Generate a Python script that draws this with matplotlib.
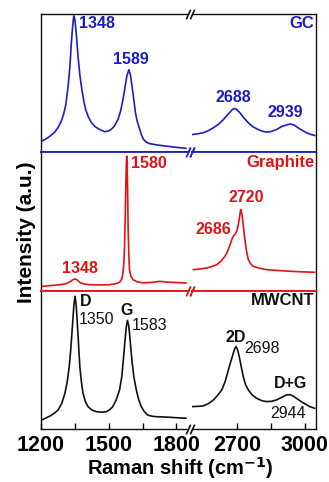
import matplotlib
matplotlib.use("Agg")
from matplotlib import pyplot as plt
import numpy as np

plt.rcParams["font.family"] = ["Liberation Sans", "DejaVu Sans"]

BLUE = "#1c1cc8"
RED = "#e01414"
BLACK = "#111111"

# GC spectrum, intensity in panel units 0-100
gc_x_lo = [1203, 1220, 1240, 1260, 1276, 1290, 1300, 1310, 1320, 1328, 1334, 1340, 1345, 1350,
           1356, 1364, 1372, 1379, 1390, 1398, 1410, 1423, 1440, 1460, 1482, 1500, 1511, 1525,
           1541, 1553, 1563, 1572, 1580, 1589, 1596, 1603, 1610, 1618, 1626, 1633, 1645, 1654,
           1665, 1680, 1720, 1754, 1800, 1842]
gc_y_lo = [8.1, 9.5, 11.7, 14.5, 18.0, 22.5, 27.5, 34.5, 47.7, 62.0, 78.0, 90.9, 98.6, 96.0,
           86.0, 69.3, 56.0, 47.7, 36.5, 30.9, 25.5, 21.6, 18.5, 16.5, 14.9, 15.5, 16.5, 19.0,
           23.7, 30.0, 38.1, 47.0, 55.0, 59.7, 56.0, 48.0, 39.5, 29.0, 22.5, 18.9, 12.5, 9.4,
           7.5, 6.3, 5.2, 4.5, 3.6, 2.9]
gc_x_hi = [2504, 2530, 2551, 2575, 2596, 2620, 2640, 2655, 2669, 2680, 2688, 2697, 2713, 2730,
           2750, 2770, 2794, 2812, 2831, 2850, 2875, 2900, 2926, 2938, 2955, 2970, 2990, 3007,
           3025, 3044]
gc_y_hi = [12.9, 13.5, 14.2, 15.8, 17.8, 20.5, 23.7, 26.5, 29.0, 31.0, 31.7, 31.2, 28.6, 25.0,
           21.4, 18.5, 16.5, 15.3, 14.6, 15.0, 16.5, 18.8, 20.1, 20.5, 19.5, 17.8, 15.8, 14.2,
           13.0, 12.2]

# Graphite spectrum
gr_x_lo = [1203, 1250, 1284, 1310, 1330, 1342, 1350, 1358, 1372, 1390, 1416, 1460, 1504, 1530,
           1548, 1558, 1563, 1567, 1570, 1573, 1576, 1578, 1580, 1582, 1584, 1586, 1589, 1592,
           1598, 1607, 1625, 1651, 1690, 1724, 1760, 1783, 1842]
gr_y_lo = [3.1, 3.8, 4.3, 5.0, 6.5, 8.0, 8.5, 8.0, 6.0, 4.8, 4.3, 4.2, 4.3, 5.0,
           6.0, 8.5, 12.8, 20.0, 32.0, 53.8, 78.0, 92.0, 97.3, 88.0, 68.0, 44.0, 26.0, 15.2,
           10.5, 8.0, 6.5, 5.6, 6.0, 6.7, 6.2, 6.0, 5.6]
gr_x_hi = [2507, 2540, 2567, 2590, 2611, 2630, 2645, 2655, 2667, 2677, 2686, 2691, 2700, 2706,
           2712, 2716, 2720, 2725, 2730, 2735, 2742, 2750, 2760, 2772, 2800, 2831, 2880, 2934,
           2990, 3044]
gr_y_hi = [15.2, 15.8, 16.4, 17.5, 18.8, 21.5, 24.5, 27.3, 32.0, 37.0, 40.0, 40.6, 43.5, 47.8,
           54.0, 58.7, 57.0, 51.4, 44.0, 37.0, 29.0, 22.5, 19.5, 17.6, 16.2, 15.2, 14.6, 14.0,
           13.6, 13.3]

# MWCNT spectrum
mw_x_lo = [1203, 1220, 1240, 1260, 1276, 1292, 1306, 1316, 1325, 1332, 1337, 1342, 1346, 1351,
           1356, 1360, 1366, 1372, 1379, 1386, 1396, 1408, 1425, 1445, 1468, 1489, 1505, 1518,
           1533, 1548, 1558, 1566, 1572, 1578, 1583, 1588, 1592, 1598, 1604, 1612, 1622, 1633,
           1644, 1658, 1673, 1690, 1710, 1740, 1768, 1805, 1842]
mw_y_lo = [6.5, 7.8, 9.4, 11.5, 13.8, 18.5, 25.9, 34.0, 45.1, 58.0, 69.3, 81.0, 90.0, 95.9,
           89.0, 79.0, 62.0, 45.1, 34.0, 25.9, 20.0, 16.2, 13.8, 12.5, 12.2, 12.5, 14.0, 16.2,
           21.0, 28.3, 38.0, 52.4, 64.0, 74.1, 78.5, 75.0, 69.3, 58.0, 47.6, 37.0, 28.3, 21.0,
           16.2, 12.5, 10.1, 9.3, 8.9, 8.7, 8.5, 8.1, 7.8]
mw_x_hi = [2504, 2530, 2551, 2575, 2596, 2615, 2633, 2648, 2662, 2674, 2684, 2690, 2696, 2703,
           2710, 2719, 2728, 2738, 2750, 2768, 2787, 2810, 2831, 2853, 2875, 2897, 2919, 2935,
           2948, 2965, 2985, 3003, 3022, 3044]
mw_y_hi = [16.2, 16.4, 16.7, 18.5, 21.0, 24.5, 28.3, 34.5, 42.8, 49.5, 54.9, 58.0, 59.6, 57.0,
           52.4, 45.0, 37.9, 32.0, 28.3, 24.5, 22.2, 20.5, 19.8, 20.0, 21.0, 22.8, 24.6, 24.8,
           23.9, 22.0, 19.8, 18.0, 16.2, 15.0]

samples = ["GC", "Graphite", "MWCNT"]
colors = [BLUE, RED, BLACK]
spectra = [
    (gc_x_lo, gc_y_lo, gc_x_hi, gc_y_hi),
    (gr_x_lo, gr_y_lo, gr_x_hi, gr_y_hi),
    (mw_x_lo, mw_y_lo, mw_x_hi, mw_y_hi),
]

# peak labels: (text, x, y, weight)
labels = [
    [("1348", 1447, 93, "bold"), ("1589", 1596, 67, "bold"),
     ("2688", 2685, 40, "bold"), ("2939", 2916, 29, "bold")],
    [("1348", 1372, 16, "bold"), ("1580", 1680, 92, "bold"),
     ("2720", 2740, 67, "bold"), ("2686", 2596, 44, "bold")],
    [("D", 1396, 92, "bold"), ("1350", 1447, 79, "normal"),
     ("G", 1581, 86, "bold"), ("1583", 1680, 75, "normal"),
     ("2D", 2696, 66, "bold"), ("2698", 2810, 58, "normal"),
     ("D+G", 2938, 33, "bold"), ("2944", 2925, 11, "normal")],
]

lo_lim = (1200, 1850)
hi_lim = (2500, 3050)

fig = plt.figure(figsize=(3.29, 4.82), dpi=100)
gs = fig.add_gridspec(3, 2, left=41 / 329, right=316 / 329, top=1 - 14 / 482,
                      bottom=1 - 429 / 482, hspace=0.0, wspace=0.03,
                      width_ratios=[lo_lim[1] - lo_lim[0], hi_lim[1] - hi_lim[0]])

slash = [(-0.45, -1), (0.45, 1)]

for row in range(3):
    col = colors[row]
    xl, yl, xh, yh = spectra[row]
    axl = fig.add_subplot(gs[row, 0])
    axr = fig.add_subplot(gs[row, 1])
    axl.plot(xl, yl, color=col, lw=1.2)
    axr.plot(xh, yh, color=col, lw=1.2)
    for ax, lim in ((axl, lo_lim), (axr, hi_lim)):
        ax.set_xlim(*lim)
        ax.set_ylim(0, 100)
        ax.set_yticks([])
        for s in ax.spines.values():
            s.set_linewidth(1.0)
            s.set_color(BLACK)
        if row < 2:
            ax.spines["bottom"].set_color(col)
            ax.spines["bottom"].set_linewidth(1.3)
            ax.set_xticks([])
        if row > 0:
            ax.spines["top"].set_color(colors[row - 1])
            ax.spines["top"].set_linewidth(1.3)
    axl.spines["right"].set_visible(False)
    axr.spines["left"].set_visible(False)

    # break marks
    top_col = BLACK if row == 0 else colors[row - 1]
    bot_col = col if row < 2 else BLACK
    for ax, xpos in ((axl, 1), (axr, 0)):
        ax.plot([xpos], [1], transform=ax.transAxes, marker=slash, markersize=7,
                linestyle="none", color=top_col, mec=top_col, mew=1.2, clip_on=False)
        ax.plot([xpos], [0], transform=ax.transAxes, marker=slash, markersize=7,
                linestyle="none", color=bot_col, mec=bot_col, mew=1.2, clip_on=False)

    # sample name
    axr.text(0.985, 0.93, samples[row], transform=axr.transAxes, ha="right", va="center",
             fontsize=12, fontweight="bold", color=col)

    for txt, x, y, w in labels[row]:
        ax = axl if x < 2000 else axr
        ax.text(x, y, txt, ha="center", va="center", fontsize=11.5, fontweight=w, color=col)

    if row == 2:
        axl.set_xticks([1200, 1350, 1500, 1650, 1800])
        axl.set_xticklabels(["1200", "", "1500", "", "1800"])
        axr.set_xticks([2700, 2850, 3000])
        axr.set_xticklabels(["2700", "", "3000"])
        for ax in (axl, axr):
            ax.tick_params(axis="x", direction="in", length=4, width=1.0, pad=4,
                           labelsize=15.5)
            for lab in ax.get_xticklabels():
                lab.set_fontweight("bold")

fig.text(26 / 329, 1 - 232 / 482, "Intensity (a.u.)", rotation=90, ha="center",
         va="center", fontsize=15, fontweight="bold")
fig.text(180 / 329, 1 - 475 / 482, r"Raman shift (cm$^{\mathbf{-1}}$)", ha="center",
         va="baseline", fontsize=14.5, fontweight="bold")

fig.savefig("out.png", dpi=100)
